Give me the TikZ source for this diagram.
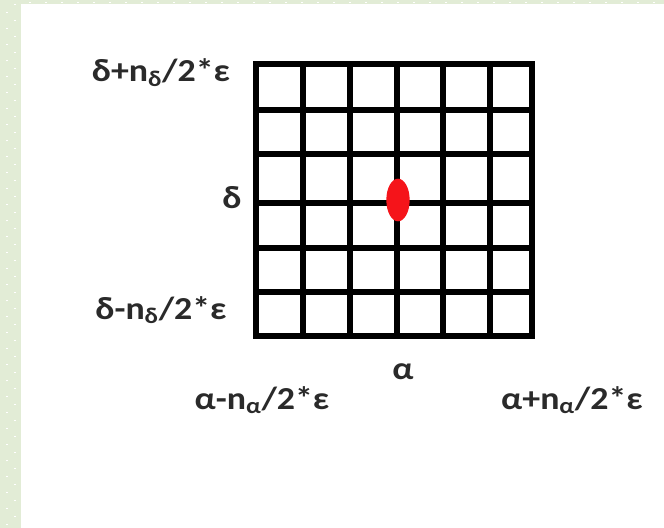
\documentclass[tikz,border=0pt]{standalone}
\usepackage{fontspec}
\usetikzlibrary{shapes.geometric}
\setmainfont{Carlito}[FakeStretch=1.12]
\definecolor{slidegreen}{HTML}{E2ECD6}
\definecolor{dotred}{HTML}{F5141A}
\definecolor{labelgray}{HTML}{2A2A2A}
\tikzset{
  lbl/.style={inner sep=0pt, text=labelgray, font=\fontsize{24}{28}\selectfont\bfseries},
  gridline/.style={line width=4.2pt, black},
}
\begin{document}
\begin{tikzpicture}[x=0.75pt,y=-0.75pt]
\useasboundingbox (0,0) rectangle (664,528);
% background
\fill[white] (0,0) rectangle (664,528);
\fill[slidegreen] (0,0) rectangle (21,528);
\fill[slidegreen] (0,0) rectangle (664,4.5);
\foreach \k in {0,...,32}{
  \fill[white] (13.5,{4+16*\k}) rectangle (15.5,{5+16*\k});
  \fill[white] (5.5,{12+16*\k}) rectangle (7.5,{13+16*\k});
}
\foreach \k in {0,...,40}{
  \fill[white] ({29+16*\k},2.5) rectangle ({31+16*\k},3.5);
}
% grid
\foreach \x in {256,303,350,397,443,490,532}{
  \draw[gridline] (\x,64) -- (\x,336);
}
\foreach \y in {64,110,154,203,248,292,336}{
  \draw[gridline] (256,\y) -- (532,\y);
}
\draw[gridline, line cap=rect] (256,64) rectangle (532,336);
% red point
\node[ellipse, fill=dotred, minimum width=17.5pt, minimum height=32pt, inner sep=0pt] (pt) at (398,200) {};
% labels
\node[lbl, anchor=base] (dtop) at (161,82) {δ+n\textsubscript{δ}/2*ε};
\node[lbl, anchor=base] (dmid) at (232,208) {δ};
\node[lbl, anchor=base] (dbot) at (161,319) {δ-n\textsubscript{δ}/2*ε};
\node[lbl, anchor=base] (amid) at (403,379) {α};
\node[lbl, anchor=base] (aleft) at (262,409) {α-n\textsubscript{α}/2*ε};
\node[lbl, anchor=base] (aright) at (572,409) {α+n\textsubscript{α}/2*ε};
\end{tikzpicture}
\end{document}
